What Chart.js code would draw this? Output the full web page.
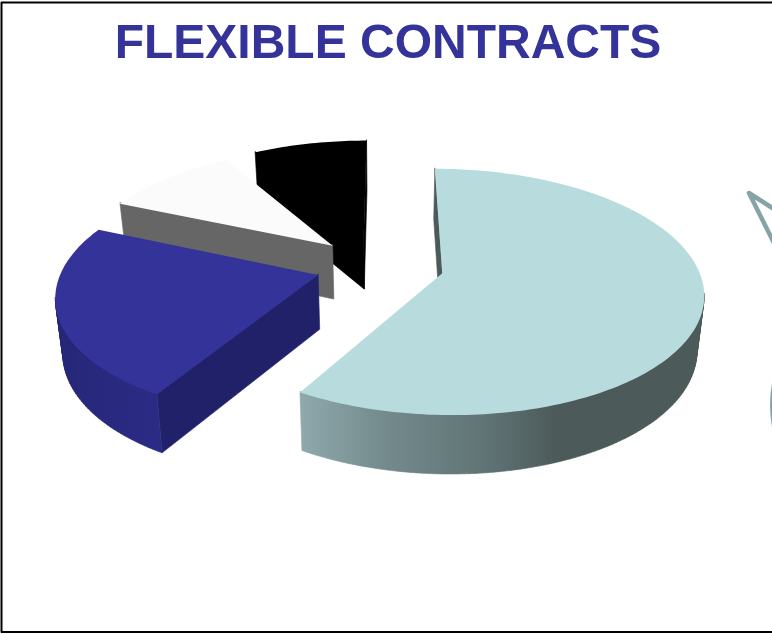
<!DOCTYPE html>
<html>
<head>
<meta charset="utf-8">
<title>Flexible Contracts</title>
<script src="https://cdn.jsdelivr.net/npm/chart.js@4"></script>
<style>
  html, body { margin: 0; padding: 0; background: #fff; }
  canvas { display: block; }
</style>
</head>
<body>
<canvas id="chart" width="772" height="634"></canvas>
<script>
// Contract mix, clockwise from twelve o'clock
const categories = ['Flexible', 'Fixed term', 'Casual', 'Other'];
const shares = [58.5, 23, 10, 8.5];
const topColors = ['#b8dcde', '#333399', '#fbfbfb', '#000000'];
const faceColors = ['#4d5a5a', '#212169', '#666666', '#000000'];
const wallStops = [
  [[0, '#8fa9ac'], [0.22, '#73898b'], [0.47, '#5f7374'], [0.63, '#4d5a5a'], [1, '#4d5a5a']],
  [[0, '#262678'], [1, '#2b2b85']],
  [[0, '#666666'], [1, '#666666']],
  [[0, '#000000'], [1, '#000000']]
];
const explode = [60, 62, 63, 65]; // px the slices are pulled out of the centre

// Oblique view of the pie plane: perspective foreshortening plus an extruded rim
const view = { x: 386, y: 265.5, sx: 255, sy: 118, persp: 0.15, depth: 54, lean: 0.977, shiftU: -0.02 };
const eye = { u: -view.shiftU, v: 1 / view.persp };
const tuck = 0.9; // walls start this far under the top surface so no seam shows

function project(u, v, lowered) {
  const w = 1 / (1 - view.persp * v);
  let x = view.x + view.sx * (u + view.shiftU) * w;
  let y = view.y + view.sy * v * w;
  if (lowered) {
    x = view.x + (x - view.x) * view.lean;
    y += view.depth * Math.sqrt(w);
  }
  return [x, y];
}

// True when a surface at (u, v) with the given outward normal faces the viewer
function facesEye(u, v, angle) {
  return Math.cos(angle) * (eye.u - u) + Math.sin(angle) * (eye.v - v) > 0;
}

function tracePoly(ctx, pts) {
  pts.forEach((p, i) => (i ? ctx.lineTo(p[0], p[1]) : ctx.moveTo(p[0], p[1])));
  ctx.closePath();
}

function signedArea(pts) {
  return pts.reduce((sum, p, i) => {
    const q = pts[(i + 1) % pts.length];
    return sum + p[0] * q[1] - q[0] * p[1];
  }, 0);
}

// Fills a set of quads as one union, sealing their shared edges with a hairline stroke
function paintSolid(ctx, quads, fill) {
  ctx.beginPath();
  quads.forEach(q => tracePoly(ctx, signedArea(q) < 0 ? q.slice().reverse() : q));
  ctx.fillStyle = fill;
  ctx.strokeStyle = fill;
  ctx.lineWidth = 0.6;
  ctx.lineJoin = 'round';
  ctx.fill('nonzero');
  ctx.stroke();
}

function ruled(a, b) {
  const ta = project(a[0], a[1]);
  const tb = project(b[0], b[1]);
  return [[ta[0], ta[1] - tuck], [tb[0], tb[1] - tuck], project(b[0], b[1], true), project(a[0], a[1], true)];
}

// Turns each arc element's angles and offset into a solid wedge in the oblique view
const solidPie = {
  id: 'solidPie',
  beforeDatasetsDraw(chart) {
    const ctx = chart.ctx;
    const wedges = chart.getDatasetMeta(0).data.map((arc, i) => {
      const p = arc.getProps(['startAngle', 'endAngle', 'outerRadius'], true);
      const mid = (p.startAngle + p.endAngle) / 2;
      const e = arc.options.offset / p.outerRadius;
      const cu = e * Math.cos(mid);
      const cv = e * Math.sin(mid);
      const rim = [];
      const steps = Math.ceil((p.endAngle - p.startAngle) / 0.02);
      for (let s = 0; s <= steps; s++) {
        const a = p.startAngle + (p.endAngle - p.startAngle) * s / steps;
        rim.push({ u: cu + Math.cos(a), v: cv + Math.sin(a), a });
      }
      return { i, cu, cv, rim, start: p.startAngle, end: p.endAngle, order: cv + 0.6 * Math.sin(mid) };
    }).sort((a, b) => a.order - b.order);

    wedges.forEach(({ i, cu, cv, rim, start, end }) => {
      const hub = [cu, cv];
      const first = rim[0];
      const last = rim[rim.length - 1];
      if (facesEye(cu, cv, end + Math.PI / 2)) {
        paintSolid(ctx, [ruled(hub, [last.u, last.v])], faceColors[i]);
      }
      if (facesEye(cu, cv, start - Math.PI / 2)) {
        paintSolid(ctx, [ruled(hub, [first.u, first.v])], faceColors[i]);
      }

      const quads = [];
      for (let s = 0; s < rim.length - 1; s++) {
        const m = rim[s];
        const n = rim[s + 1];
        if (facesEye(m.u, m.v, m.a) || facesEye(n.u, n.v, n.a)) {
          quads.push(ruled([m.u, m.v], [n.u, n.v]));
        }
      }
      if (quads.length) {
        const xs = rim.map(q => project(q.u, q.v)[0]);
        const grad = ctx.createLinearGradient(Math.min(...xs), 0, Math.max(...xs), 0);
        wallStops[i].forEach(s => grad.addColorStop(s[0], s[1]));
        paintSolid(ctx, quads, grad);
      }

      ctx.beginPath();
      tracePoly(ctx, [project(cu, cv)].concat(rim.map(q => project(q.u, q.v))));
      ctx.fillStyle = topColors[i];
      ctx.fill();
    });
    return false;
  },
  afterDraw(chart) {
    const ctx = chart.ctx;
    ctx.save();
    // Pointer shape running off the right-hand edge
    ctx.strokeStyle = '#86a3a5';
    ctx.lineWidth = 4.5;
    ctx.lineJoin = 'round';
    ctx.beginPath();
    ctx.moveTo(774, 209);
    ctx.lineTo(749, 193);
    ctx.lineTo(774, 243);
    ctx.stroke();
    ctx.fillStyle = '#86a3a5';
    ctx.beginPath();
    ctx.moveTo(772, 383);
    ctx.quadraticCurveTo(768, 405, 772, 427);
    ctx.closePath();
    ctx.fill();
    // Frame
    ctx.strokeStyle = '#000';
    ctx.lineWidth = 2;
    ctx.beginPath();
    ctx.moveTo(772, 2.5);
    ctx.lineTo(1.5, 2.5);
    ctx.lineTo(1.5, 632);
    ctx.lineTo(772, 632);
    ctx.stroke();
    ctx.restore();
  }
};

new Chart(document.getElementById('chart'), {
  type: 'pie',
  data: {
    labels: categories,
    datasets: [{ data: shares, backgroundColor: topColors, offset: explode, borderWidth: 0 }]
  },
  plugins: [solidPie],
  options: {
    responsive: false,
    animation: false,
    layout: { padding: { left: 4 } },
    plugins: {
      legend: { display: false },
      tooltip: { enabled: false },
      title: {
        display: true,
        text: 'FLEXIBLE CONTRACTS',
        color: '#333399',
        align: 'center',
        font: { family: '"Liberation Sans", Arial, sans-serif', size: 48, weight: 'bold' },
        padding: { top: 16, bottom: 10 }
      }
    }
  }
});
</script>
</body>
</html>
